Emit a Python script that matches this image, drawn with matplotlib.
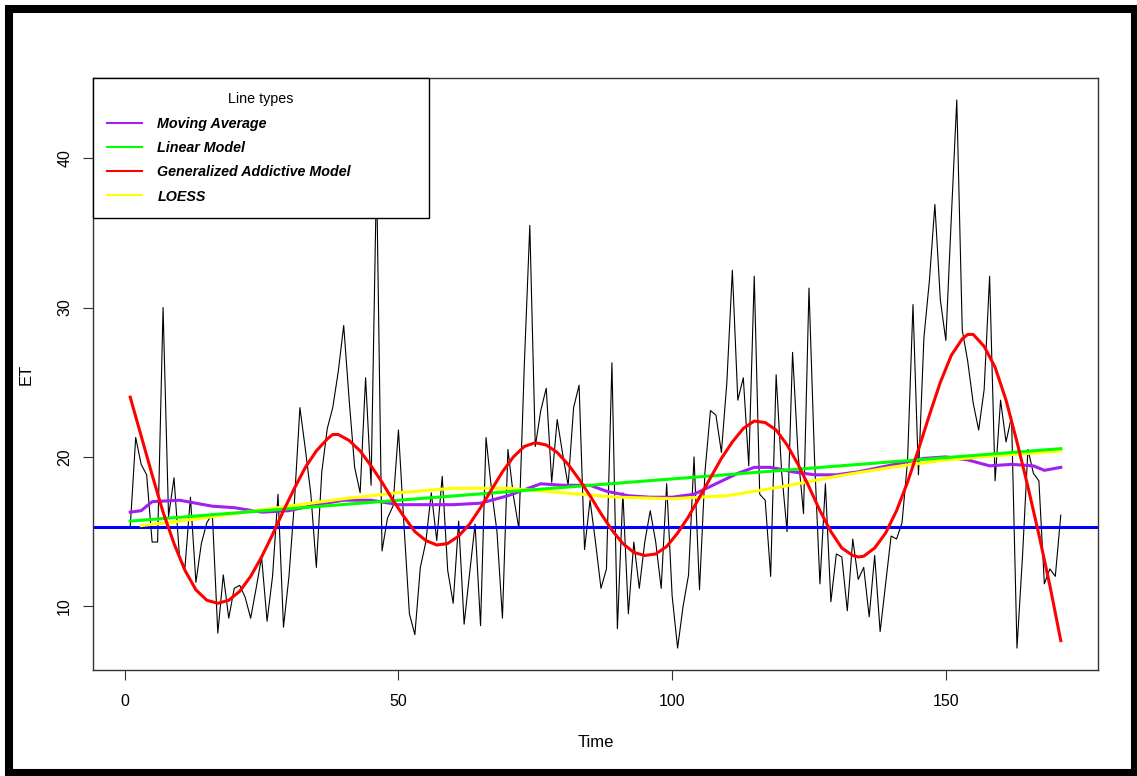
import numpy as np
import matplotlib.pyplot as plt
from matplotlib.patches import Rectangle

plt.rcParams['font.family'] = ['Liberation Sans', 'DejaVu Sans']

# ET series (Time = 1..171)
time = np.arange(1, 172)
et = [15.3, 21.3, 19.5, 18.8, 14.3, 14.3, 30.0, 16.0, 18.6, 13.3,
      12.6, 17.3, 11.6, 14.2, 15.6, 16.2, 8.2, 12.1, 9.2, 11.2,
      11.4, 10.6, 9.2, 11.2, 13.3, 9.0, 12.0, 17.5, 8.6, 12.0,
      17.0, 23.3, 20.5, 17.5, 12.6, 19.0, 21.9, 23.3, 25.7, 28.8,
      23.8, 19.3, 17.6, 25.3, 18.1, 39.0, 13.7, 15.9, 16.7, 21.8,
      15.5, 9.5, 8.1, 12.6, 14.3, 17.6, 14.4, 18.7, 12.4, 10.2,
      15.7, 8.8, 12.2, 15.5, 8.7, 21.3, 17.8, 15.0, 9.2, 20.5,
      17.4, 15.2, 26.2, 35.5, 20.7, 23.1, 24.6, 18.3, 22.5, 20.2,
      18.1, 23.3, 24.8, 13.8, 17.1, 14.3, 11.2, 12.5, 26.3, 8.5,
      17.6, 9.5, 14.3, 11.2, 14.3, 16.4, 14.3, 11.2, 18.2, 10.7,
      7.2, 10.0, 12.1, 20.0, 11.1, 19.0, 23.1, 22.8, 20.3, 25.0,
      32.5, 23.8, 25.3, 19.4, 32.1, 17.5, 17.1, 12.0, 25.5, 19.0,
      15.0, 27.0, 20.2, 16.2, 31.3, 20.0, 11.5, 18.2, 10.3, 13.5,
      13.3, 9.7, 14.5, 11.8, 12.6, 9.3, 13.4, 8.3, 11.5, 14.7,
      14.5, 15.6, 19.7, 30.2, 18.8, 28.0, 31.8, 36.9, 30.5, 27.8,
      36.0, 43.9, 28.5, 26.4, 23.6, 21.8, 24.5, 32.1, 18.4, 23.8,
      21.0, 22.7, 7.2, 13.3, 20.5, 18.9, 18.4, 11.5, 12.5, 12.0,
      16.1]

hline = 15.3

ma_time = [1, 3, 5, 10, 13, 16, 20, 25, 30, 35, 40, 45, 50, 55, 60, 65, 70, 73,
           76, 80, 85, 88, 92, 96, 100, 104, 108, 112, 115, 118, 122, 126, 130,
           134, 138, 142, 146, 150, 154, 158, 162, 166, 168, 171]
ma_vals = [16.3, 16.4, 17.0, 17.1, 16.9, 16.7, 16.6, 16.3, 16.4, 16.8, 17.1, 17.1,
           16.8, 16.8, 16.8, 16.9, 17.4, 17.8, 18.2, 18.1, 18.1, 17.7, 17.4, 17.3,
           17.3, 17.5, 18.2, 18.9, 19.3, 19.3, 19.0, 18.8, 18.8, 19.0, 19.3, 19.6,
           19.9, 20.0, 19.8, 19.4, 19.5, 19.4, 19.1, 19.3]

lm_time = [1, 171]
lm_vals = [15.7, 20.55]

gam_time = [1, 3, 5, 7, 9, 11, 13, 15, 17, 19, 21, 23, 25, 27, 29, 31, 33, 35, 37,
            38, 39, 41, 43, 45, 47, 49, 51, 53, 55, 57, 59, 61, 63, 65, 67, 69, 71,
            73, 75, 77, 79, 81, 83, 85, 87, 89, 91, 93, 95, 97, 99, 101, 103, 105,
            107, 109, 111, 113, 115, 117, 119, 121, 123, 125, 127, 129, 131, 133,
            134, 135, 137, 139, 141, 143, 145, 147, 149, 151, 153, 154, 155, 157,
            159, 161, 163, 165, 167, 169, 171]
gam_vals = [24.0, 21.4, 18.8, 16.3, 14.2, 12.4, 11.1, 10.4, 10.2, 10.4, 11.0, 12.0,
            13.3, 14.8, 16.4, 17.9, 19.3, 20.4, 21.2, 21.5, 21.5, 21.1, 20.4, 19.4,
            18.3, 17.1, 16.0, 15.0, 14.4, 14.1, 14.2, 14.7, 15.5, 16.6, 17.8, 19.0,
            20.0, 20.7, 20.95, 20.8, 20.3, 19.5, 18.5, 17.4, 16.2, 15.1, 14.2, 13.6,
            13.4, 13.5, 14.0, 14.9, 16.0, 17.3, 18.6, 19.9, 21.0, 21.9, 22.4, 22.3,
            21.8, 20.8, 19.5, 18.0, 16.4, 15.0, 13.9, 13.4, 13.3, 13.35, 13.9, 14.9,
            16.4, 18.3, 20.5, 22.8, 25.0, 26.8, 27.9, 28.2, 28.2, 27.4, 26.0, 23.8,
            21.0, 18.0, 14.8, 11.4, 7.7]

lo_time = [3, 10, 20, 30, 40, 50, 60, 70, 80, 90, 100, 110, 120, 130, 140, 150, 160, 171]
lo_vals = [15.4, 15.7, 16.2, 16.7, 17.2, 17.6, 17.9, 17.9, 17.6, 17.3, 17.2, 17.4,
           18.0, 18.7, 19.3, 19.8, 20.1, 20.4]

fig = plt.figure(figsize=(11.37, 7.76), dpi=100)
ax = fig.add_axes([93 / 1137, 1 - 670 / 776, 1005 / 1137, 592 / 776])

ax.plot(time, et, color='black', lw=0.8)
ax.margins(x=0.04, y=0.04)
ax.axhline(hline, color='blue', lw=2.2)
ax.plot(ma_time, ma_vals, color='#A020F0', lw=2.2, label='Moving Average')
ax.plot(lo_time, lo_vals, color='yellow', lw=2.2)
ax.plot(lm_time, lm_vals, color='#00FF00', lw=2.2, label='Linear Model')
ax.plot(gam_time, gam_vals, color='red', lw=2.2, label='Generalized Addictive Model')
ax.plot([], [], color='yellow', lw=1.5, label='LOESS')

ax.set_xticks([0, 50, 100, 150])
ax.set_yticks([10, 20, 30, 40])
ax.tick_params(direction='out', length=7, width=0.8, labelsize=11.5, color='#333333')
plt.setp(ax.get_yticklabels(), rotation=90, va='center')
ax.tick_params(axis='x', pad=10)
ax.tick_params(axis='y', pad=8)
for s in ax.spines.values():
    s.set_linewidth(1.0)
    s.set_color('#333333')
ax.set_xlabel('Time', fontsize=12, labelpad=19)
ax.set_ylabel('ET', fontsize=12, labelpad=17)

leg = ax.legend(loc='upper left', bbox_to_anchor=(0, 0.6, 0.3343, 0.4), mode='expand',
                borderaxespad=0, title='Line types', fancybox=False,
                prop={'weight': 'bold', 'style': 'italic', 'size': 10.3},
                title_fontsize=10.3, handlelength=2.45, handletextpad=1.05,
                borderpad=1.0, labelspacing=0.72, framealpha=1)
leg.get_frame().set_edgecolor('black')
leg.get_frame().set_linewidth(1.0)
for h in leg.get_lines():
    h.set_linewidth(1.5)

# outer frame of the image
fig.patches.append(Rectangle((9 / 1137, 3 / 776), 1126 / 1137, 764 / 776,
                             transform=fig.transFigure, fill=False,
                             edgecolor='black', lw=5.8))

fig.savefig('out.png', dpi=100)
